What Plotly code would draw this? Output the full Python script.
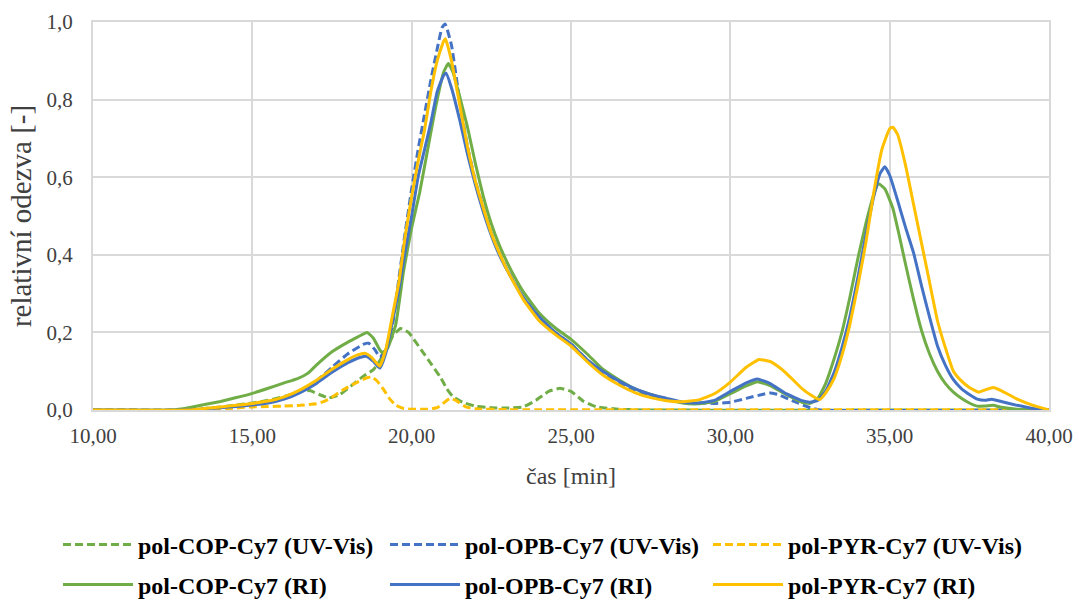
import plotly.graph_objects as go

# ---------------- data ----------------
t_cop_uv = [10, 12.8, 13.5, 14, 14.5, 15, 15.5, 16, 16.5, 16.8, 17.1, 17.4, 17.75, 18.1, 18.5, 18.8, 19.1, 19.4, 19.65, 19.9, 20.3, 20.6, 20.9, 21.1, 21.3, 21.6, 22.0, 22.5, 23.0, 23.5, 23.9, 24.3, 24.65, 25.0, 25.4, 25.8, 26.5, 27.5, 40]
v_cop_uv = [0, 0, 0.004, 0.008, 0.013, 0.018, 0.025, 0.035, 0.048, 0.05, 0.04, 0.031, 0.04, 0.062, 0.088, 0.104, 0.14, 0.19, 0.21, 0.2, 0.155, 0.12, 0.085, 0.055, 0.034, 0.02, 0.01, 0.006, 0.005, 0.008, 0.025, 0.048, 0.056, 0.048, 0.022, 0.008, 0.002, 0, 0]

t_opb_uv = [10, 13.0, 14, 15, 16, 16.5, 17, 17.5, 18, 18.5, 18.65, 18.85, 19.0, 19.2, 19.4, 19.6, 19.8, 20.0, 20.2, 20.4, 20.6, 20.8, 20.95, 21.05, 21.25, 21.5, 21.75, 22.0, 22.25, 22.5, 22.75, 23.0, 23.5, 24.0, 24.5, 25.0, 25.5, 26.0, 26.5, 27.0, 27.5, 28.0, 28.5, 29.0, 29.5, 30.0, 30.5, 31.0, 31.25, 31.5, 32.0, 32.5, 32.8, 40]
v_opb_uv = [0, 0, 0.006, 0.014, 0.03, 0.048, 0.074, 0.11, 0.145, 0.17, 0.172, 0.155, 0.136, 0.16, 0.22, 0.34, 0.46, 0.57, 0.67, 0.76, 0.85, 0.93, 0.985, 0.995, 0.94, 0.8, 0.68, 0.59, 0.52, 0.455, 0.405, 0.36, 0.29, 0.24, 0.2, 0.17, 0.13, 0.095, 0.07, 0.05, 0.035, 0.026, 0.02, 0.018, 0.017, 0.02, 0.03, 0.04, 0.044, 0.04, 0.022, 0.006, 0.0, 0]

t_pyr_uv = [10, 13.8, 14.2, 14.6, 15, 15.5, 16, 16.5, 17, 17.25, 17.5, 17.85, 18.25, 18.6, 18.75, 18.9, 19.1, 19.3, 19.5, 19.75, 20.0, 20.5, 20.8, 21.0, 21.2, 21.4, 21.7, 22.0, 23.0, 40]
v_pyr_uv = [0, 0, 0.003, 0.006, 0.008, 0.009, 0.01, 0.012, 0.016, 0.022, 0.033, 0.052, 0.07, 0.083, 0.085, 0.076, 0.055, 0.03, 0.012, 0.004, 0.002, 0.002, 0.006, 0.018, 0.03, 0.024, 0.008, 0.003, 0.001, 0.001]

t_cop_ri = [10, 12.5, 13, 13.5, 14, 14.5, 15, 15.5, 16, 16.4, 16.75, 17, 17.5, 18, 18.3, 18.6, 18.8, 19.0, 19.1, 19.25, 19.5, 19.75, 20.0, 20.25, 20.5, 20.75, 21.0, 21.15, 21.3, 21.5, 21.75, 22.0, 22.25, 22.5, 22.75, 23.0, 23.25, 23.5, 24.0, 24.5, 25.0, 25.5, 26.0, 26.5, 27.0, 27.5, 28.0, 28.5, 29.0, 29.5, 30.0, 30.5, 30.85, 31.25, 31.75, 32.25, 32.5, 32.75, 33.0, 33.25, 33.5, 33.75, 34.0, 34.25, 34.5, 34.65, 34.85, 35.1, 35.3, 35.5, 35.75, 36.0, 36.25, 36.5, 36.75, 37.0, 37.25, 37.5, 37.75, 38.0, 38.25, 38.5, 39.0, 40]
v_cop_ri = [0, 0, 0.006, 0.014, 0.022, 0.032, 0.043, 0.056, 0.07, 0.08, 0.095, 0.115, 0.15, 0.175, 0.188, 0.2, 0.185, 0.155, 0.146, 0.16, 0.22, 0.36, 0.47, 0.56, 0.67, 0.78, 0.87, 0.893, 0.87, 0.81, 0.73, 0.635, 0.55, 0.48, 0.425, 0.38, 0.34, 0.305, 0.25, 0.212, 0.182, 0.145, 0.105, 0.078, 0.055, 0.04, 0.028, 0.018, 0.016, 0.022, 0.042, 0.062, 0.073, 0.063, 0.04, 0.02, 0.017, 0.03, 0.07, 0.13, 0.2, 0.29, 0.39, 0.48, 0.555, 0.583, 0.57, 0.52, 0.45, 0.375, 0.285, 0.205, 0.145, 0.1, 0.068, 0.046, 0.03, 0.018, 0.01, 0.01, 0.012, 0.007, 0.002, 0]

t_opb_ri = [10, 13.0, 13.5, 14, 14.5, 15, 15.5, 16, 16.5, 17, 17.5, 18, 18.4, 18.6, 18.8, 19.0, 19.2, 19.4, 19.6, 19.8, 20.0, 20.2, 20.4, 20.6, 20.8, 21.0, 21.08, 21.25, 21.5, 21.75, 22.0, 22.25, 22.5, 22.75, 23.0, 23.5, 24.0, 24.5, 25.0, 25.5, 26.0, 26.5, 27.0, 27.5, 28.0, 28.5, 29.0, 29.5, 30.0, 30.5, 30.85, 31.25, 31.75, 32.25, 32.5, 32.75, 33.0, 33.25, 33.5, 33.75, 34.0, 34.25, 34.5, 34.7, 34.85, 35.0, 35.25, 35.5, 35.75, 36.0, 36.25, 36.5, 36.75, 37.0, 37.25, 37.5, 37.75, 38.0, 38.2, 38.5, 39.0, 39.5, 40]
v_opb_ri = [0, 0, 0.003, 0.006, 0.009, 0.013, 0.018, 0.028, 0.045, 0.068, 0.097, 0.122, 0.136, 0.138, 0.125, 0.108, 0.15, 0.23, 0.31, 0.41, 0.5, 0.6, 0.67, 0.74, 0.82, 0.862, 0.868, 0.83, 0.75, 0.66, 0.58, 0.51, 0.45, 0.4, 0.36, 0.29, 0.24, 0.2, 0.17, 0.13, 0.1, 0.075, 0.055, 0.04, 0.03, 0.02, 0.018, 0.025, 0.048, 0.07, 0.08, 0.068, 0.042, 0.024, 0.02, 0.025, 0.05, 0.095, 0.16, 0.24, 0.34, 0.45, 0.55, 0.61, 0.627, 0.605, 0.54, 0.47, 0.405, 0.32, 0.24, 0.165, 0.115, 0.078, 0.055, 0.04, 0.028, 0.025, 0.028, 0.022, 0.012, 0.004, 0]

t_pyr_ri = [10, 13.0, 13.5, 14, 14.5, 15, 15.5, 16, 16.5, 17, 17.5, 18, 18.3, 18.55, 18.75, 19.0, 19.2, 19.4, 19.6, 19.8, 20.0, 20.2, 20.4, 20.6, 20.8, 21.0, 21.06, 21.25, 21.5, 21.75, 22.0, 22.25, 22.5, 22.75, 23.0, 23.5, 24.0, 24.5, 25.0, 25.5, 26.0, 26.5, 27.0, 27.5, 28.0, 28.5, 29.0, 29.5, 30.0, 30.5, 30.9, 31.25, 31.5, 31.75, 32.0, 32.25, 32.5, 32.8, 33.0, 33.25, 33.5, 33.75, 34.0, 34.25, 34.5, 34.75, 35.0, 35.1, 35.25, 35.5, 35.75, 36.0, 36.25, 36.5, 36.75, 37.0, 37.25, 37.5, 37.8, 38.0, 38.25, 38.5, 39.0, 39.5, 40]
v_pyr_ri = [0, 0, 0.004, 0.008, 0.012, 0.017, 0.023, 0.034, 0.052, 0.076, 0.105, 0.13, 0.142, 0.146, 0.135, 0.113, 0.16, 0.245, 0.33, 0.45, 0.55, 0.64, 0.72, 0.82, 0.9, 0.95, 0.957, 0.9, 0.79, 0.68, 0.59, 0.52, 0.455, 0.405, 0.36, 0.285, 0.23, 0.195, 0.165, 0.125, 0.09, 0.065, 0.045, 0.032, 0.024, 0.021, 0.026, 0.042, 0.072, 0.11, 0.13, 0.125, 0.112, 0.095, 0.075, 0.055, 0.04, 0.027, 0.045, 0.08, 0.14, 0.22, 0.32, 0.43, 0.56, 0.67, 0.725, 0.729, 0.71, 0.63, 0.53, 0.43, 0.33, 0.23, 0.16, 0.1, 0.075, 0.058, 0.046, 0.052, 0.058, 0.05, 0.028, 0.012, 0]

names = ["pol-COP-Cy7 (UV-Vis)", "pol-OPB-Cy7 (UV-Vis)", "pol-PYR-Cy7 (UV-Vis)",
         "pol-COP-Cy7 (RI)", "pol-OPB-Cy7 (RI)", "pol-PYR-Cy7 (RI)"]

GREEN, BLUE, YELLOW = "#70AD47", "#4472C4", "#FFC000"
SERIF = "Liberation Serif, Times New Roman, serif"

series = [
    (t_cop_uv, v_cop_uv, names[0], GREEN, "8px,4px"),
    (t_opb_uv, v_opb_uv, names[1], BLUE, "8px,4px"),
    (t_pyr_uv, v_pyr_uv, names[2], YELLOW, "8px,4px"),
    (t_cop_ri, v_cop_ri, names[3], GREEN, "solid"),
    (t_opb_ri, v_opb_ri, names[4], BLUE, "solid"),
    (t_pyr_ri, v_pyr_ri, names[5], YELLOW, "solid"),
]

# one single-entry legend per series, laid out as a 3 x 2 grid (pixel positions)
legend_x_px = [58, 385, 708, 58, 385, 708]
legend_y_px = [545, 545, 545, 585, 585, 585]

fig = go.Figure()
legends = {}
for i, (tx, vy, nm, col, dash) in enumerate(series):
    lg = "legend" if i == 0 else f"legend{i + 1}"
    fig.add_trace(go.Scatter(
        x=tx, y=vy, name=nm, mode="lines",
        line=dict(color=col, width=3, dash=dash, shape="spline", smoothing=0.4),
        legend=lg,
    ))
    legends[lg] = dict(
        orientation="h", xref="container", yref="container",
        x=legend_x_px[i] / 1079, y=1 - legend_y_px[i] / 600,
        xanchor="left", yanchor="middle",
        font=dict(family=SERIF, size=24, color="#000000", weight="bold"),
        bgcolor="rgba(0,0,0,0)", itemwidth=70,
    )

fig.update_layout(
    width=1079, height=600,
    margin=dict(l=93, r=30, t=22, b=190, autoexpand=False),
    paper_bgcolor="white", plot_bgcolor="white",
    separators=", ",
    font=dict(family=SERIF, size=21, color="#404040"),
    showlegend=True,
    xaxis=dict(
        range=[10, 40], dtick=5, tick0=10, tickformat=".2f",
        showgrid=True, gridcolor="#D9D9D9", gridwidth=2,
        showline=True, linecolor="#D9D9D9", linewidth=2, mirror=True,
        zeroline=False, ticks="outside", ticklen=6, tickcolor="rgba(0,0,0,0)",
        tickfont=dict(family=SERIF, size=21, color="#404040"),
        title=dict(text="čas [min]", font=dict(family=SERIF, size=24, color="#404040"), standoff=20),
    ),
    yaxis=dict(
        range=[0, 1], dtick=0.2, tick0=0, tickformat=".1f",
        showgrid=True, gridcolor="#D9D9D9", gridwidth=2,
        showline=True, linecolor="#D9D9D9", linewidth=2, mirror=True,
        zeroline=False, ticks="outside", ticklen=14, tickcolor="rgba(0,0,0,0)",
        tickfont=dict(family=SERIF, size=21, color="#404040"),
        title=dict(text="relativní odezva [-]", font=dict(family=SERIF, size=29, color="#404040"), standoff=6),
    ),
    **legends,
)

fig.write_html("out.html")
